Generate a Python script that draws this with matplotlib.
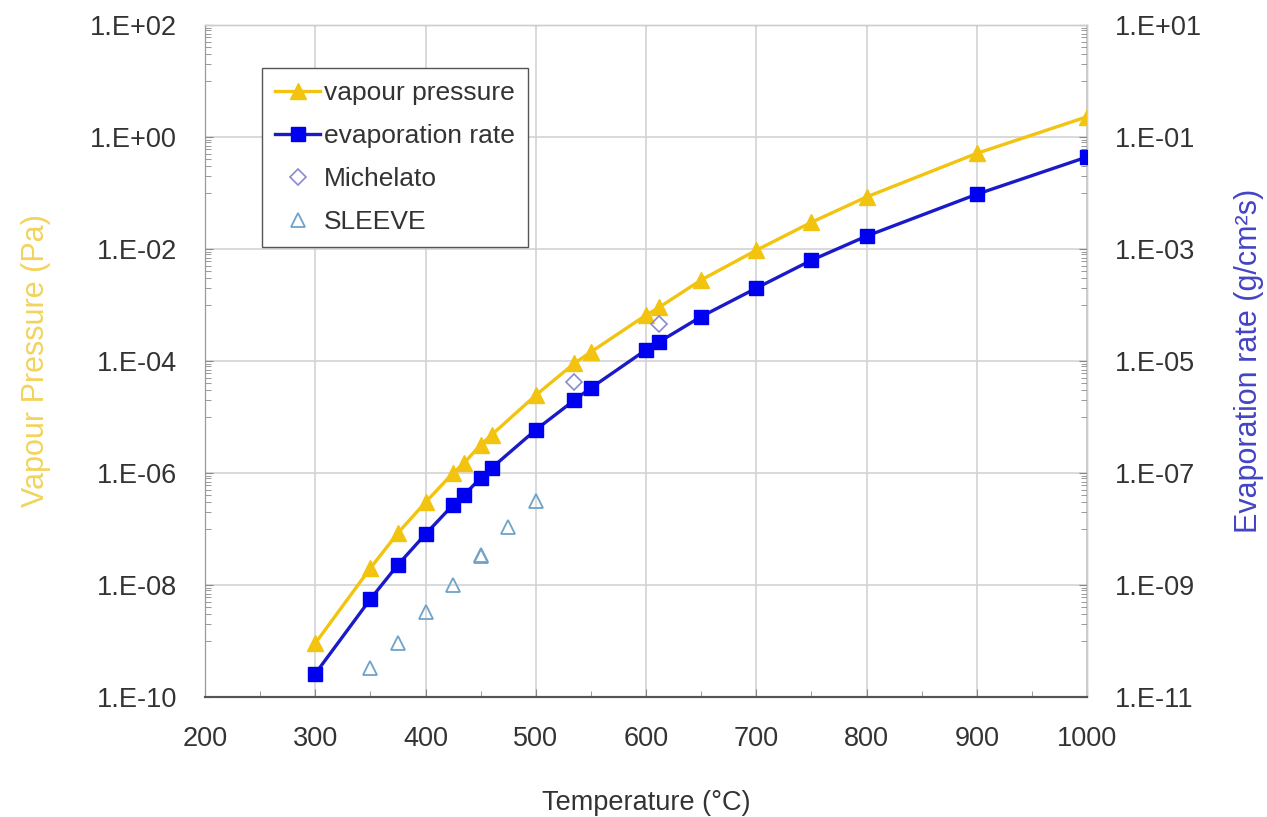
import numpy as np
import matplotlib.pyplot as plt
from matplotlib.ticker import FixedLocator, FuncFormatter
from matplotlib.lines import Line2D

plt.rcParams['font.family'] = ['Liberation Sans', 'DejaVu Sans']

# vapour pressure (Pa), left axis
temp_vp = [300, 350, 375, 400, 425, 435, 450, 460, 500, 535, 550, 600, 612, 650, 700, 750, 800, 900, 1000]
vapour_pressure = [9.1e-10, 2.0e-8, 8.5e-8, 3.0e-7, 1.0e-6, 1.5e-6, 3.2e-6, 4.8e-6, 2.45e-5,
                   9.1e-5, 1.45e-4, 6.6e-4, 9.1e-4, 2.8e-3, 9.5e-3, 3.0e-2, 8.5e-2, 5.1e-1, 2.3e+0]

# evaporation rate (g/cm2s), right axis
temp_er = temp_vp
evaporation_rate = [2.6e-11, 5.6e-10, 2.3e-9, 8.1e-9, 2.7e-8, 4.1e-8, 8.1e-8, 1.23e-7, 5.9e-7,
                    2.0e-6, 3.3e-6, 1.58e-5, 2.2e-5, 6.2e-5, 2.0e-4, 6.3e-4, 1.7e-3, 9.5e-3, 4.4e-2]

# measurements, right axis
temp_mich = [535, 612]
michelato = [4.2e-6, 4.6e-5]

temp_sleeve = [350, 375, 400, 425, 450, 450, 475, 500]
sleeve = [3.3e-11, 9.1e-11, 3.3e-10, 1.0e-9, 3.5e-9, 3.3e-9, 1.1e-8, 3.2e-8]

yellow = '#f2c40f'
blue = '#0000f0'

fig = plt.figure(figsize=(12.67, 8.17), dpi=100)
ax = fig.add_axes([0.1618, 0.1469, 0.6962, 0.8225])
ax2 = ax.twinx()

ax.plot(temp_vp, vapour_pressure, color=yellow, lw=2.4, marker='^', ms=12, zorder=3)
ax2.plot(temp_er, evaporation_rate, color='#1a1ac8', lw=2.4, marker='s', ms=10,
         mfc=blue, mec=blue, zorder=3)
ax2.plot(temp_mich, michelato, ls='none', marker='D', ms=8, mfc='none', mec='#8a8ad0', mew=1.2)
ax2.plot(temp_sleeve, sleeve, ls='none', marker='^', ms=10, mfc='none', mec='#6fa3c8', mew=1.3)

ax.set_yscale('log')
ax2.set_yscale('log')
ax.set_xlim(200, 1000)
ax.set_ylim(1e-10, 1e2)
ax2.set_ylim(1e-11, 1e1)

fmt = FuncFormatter(lambda v, p: '1.E%+03d' % int(round(np.log10(v))))
ax.yaxis.set_major_locator(FixedLocator([10.0 ** e for e in range(-10, 3, 2)]))
ax2.yaxis.set_major_locator(FixedLocator([10.0 ** e for e in range(-11, 2, 2)]))
ax.yaxis.set_minor_locator(FixedLocator([k * 10.0 ** e for e in range(-9, 2, 2) for k in range(1, 10)]))
ax2.yaxis.set_minor_locator(FixedLocator([k * 10.0 ** e for e in range(-10, 1, 2) for k in range(1, 10)]))
ax.yaxis.set_major_formatter(fmt)
ax2.yaxis.set_major_formatter(fmt)
ax.yaxis.set_minor_formatter(FuncFormatter(lambda v, p: ''))
ax2.yaxis.set_minor_formatter(FuncFormatter(lambda v, p: ''))

ax.set_xticks(range(200, 1001, 100))
ax.set_xticks(range(250, 1000, 100), minor=True)

ax.grid(True, which='major', color='#d0d0d0', lw=1.1)
ax.set_axisbelow(True)

for a in (ax, ax2):
    a.tick_params(which='both', direction='in', labelsize=19.5, labelcolor='#333333', color='#888888')
    a.tick_params(which='major', length=6)
    a.tick_params(which='minor', length=4)
ax.tick_params(axis='y', pad=20)
ax2.tick_params(axis='y', pad=20)
ax.tick_params(axis='x', pad=21)

ax.spines['left'].set_color('#999999')
ax.spines['bottom'].set_color('#555555')
ax.spines['bottom'].set_linewidth(1.5)
for s in ('top', 'right'):
    ax2.spines[s].set_color('#cccccc')
ax2.spines['left'].set_color('#999999')
ax2.spines['bottom'].set_color('#555555')
ax2.spines['bottom'].set_linewidth(1.5)

ax.set_xlabel('Temperature (°C)', fontsize=19.5, color='#333333', labelpad=27)
ax.set_ylabel('Vapour Pressure (Pa)', fontsize=22, color='#f2d35a', labelpad=28)
ax2.set_ylabel('Evaporation rate (g/cm²s)', fontsize=22, color='#4444c4', labelpad=23)

handles = [
    Line2D([], [], color=yellow, lw=2.4, marker='^', ms=12),
    Line2D([], [], color='#1a1ac8', lw=2.4, marker='s', ms=10, mfc=blue, mec=blue),
    Line2D([], [], ls='none', marker='D', ms=8, mfc='none', mec='#8a8ad0', mew=1.2),
    Line2D([], [], ls='none', marker='^', ms=10, mfc='none', mec='#6fa3c8', mew=1.3),
]
labels = ['vapour pressure', 'evaporation rate', 'Michelato', 'SLEEVE']
leg = ax2.legend(handles, labels, loc='upper left', bbox_to_anchor=(0.0646, 0.936),
                 borderaxespad=0, fontsize=19, fancybox=False, framealpha=1,
                 edgecolor='#555555', handlelength=1.7, handletextpad=0.15,
                 labelspacing=0.72, borderpad=0.5)
for t in leg.get_texts():
    t.set_color('#333333')

fig.savefig('out.png', dpi=100)
